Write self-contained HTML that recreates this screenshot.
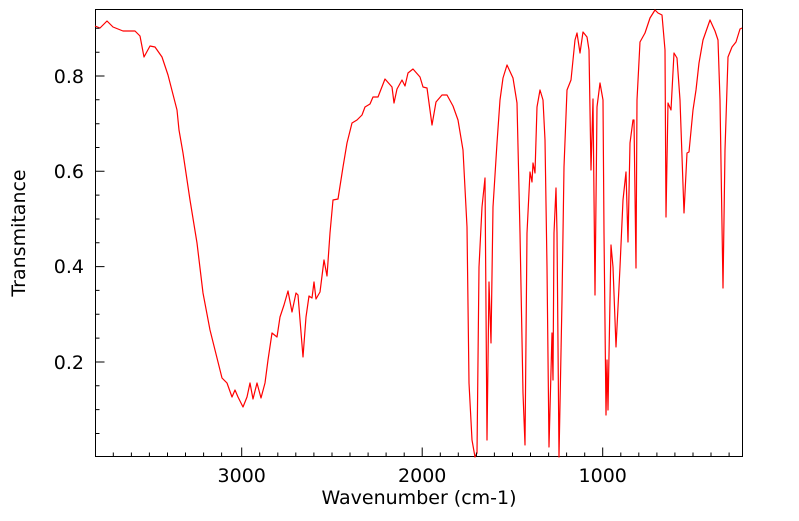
<!DOCTYPE html>
<html><head><meta charset="utf-8"><style>
html,body{margin:0;padding:0;background:#fff;}
svg text{font-family:"DejaVu Sans","Liberation Sans",sans-serif;font-size:19px;fill:#000;}
</style></head><body>
<svg width="799" height="516" viewBox="0 0 799 516" xmlns="http://www.w3.org/2000/svg">
<rect x="95.5" y="9.5" width="647" height="447" fill="none" stroke="#000" stroke-width="1"/>
<g stroke="#000" stroke-width="1">
<path d="M241.7 456.5v-9M422.2 456.5v-9M602.7 456.5v-9"/>
<path d="M95.5 76h9M95.5 171.3h9M95.5 266.6h9M95.5 362h9"/>
</g>
<text x="241.7" y="482" text-anchor="middle">3000</text>
<text x="422.2" y="482" text-anchor="middle">2000</text>
<text x="602.7" y="482" text-anchor="middle">1000</text>
<text x="84" y="83" text-anchor="end">0.8</text>
<text x="84" y="178" text-anchor="end">0.6</text>
<text x="84" y="273" text-anchor="end">0.4</text>
<text x="84" y="369" text-anchor="end">0.2</text>
<text x="419" y="504" text-anchor="middle">Wavenumber (cm-1)</text>
<text transform="translate(25,233) rotate(-90)" text-anchor="middle">Transmitance</text>
<polyline fill="none" stroke="#ff0000" stroke-width="1.2" stroke-linejoin="round" points="95,26 100,28 107,21 113,27 123,31 135,31 140,36 144,57 150,46 155,47 162,57 168,75 177,110 179,130 183,153 190,200 197,243 203,293 210,330 222,378 227,383 232,397 235,390 238,397 243,407 247,397 250,383 253,399 257,383 261,398 265,383 268,360 272,333 277,337 280,317 284,305 288,291 292,312 296,293 298,295 303,357 306,317 309,296 312,298 314,282 316,299 320,292 324,260 327,276 330,233 333,200 338,199 343,167 347,143 352,123 357,120 362,115 365,107 370,104 373,97 378,97 385,79 392,87 394,103 397,89 402,80 405,86 408,73 413,69 420,77 423,87 427,88 432,125 436,102 442,95 447,95 453,106 458,120 463,150 467,227 469,383 472,440 475,457 477,453 479,267 482,207 485,178 487,440 489,282 491,343 493,207 497,143 500,100 503,78 507,65 513,78 517,103 520,233 523,393 525,445 527,233 530,172 532,182 533,163 535,173 537,107 540,90 543,100 545,140 547,267 549,447 552,333 553,380 554,233 556,188 557,233 559,457 562,300 564,167 567,90 571,80 575,40 577,33 580,53 583,32 587,37 589,50 591,170 593,99 595,295 597,107 600,83 603,100 604,233 606,415 607,360 608,410 611,245 613,267 616,347 620,267 623,200 626,172 628,242 630,143 633,120 634,120 636,268 637,100 640,42 645,33 650,18 655,10 658,13 662,15 665,50 666,217 668,103 671,110 674,53 677,58 680,100 684,213 687,153 689,152 693,110 696,90 699,63 703,40 710,20 715,31 718,40 720,100 723,288 725,150 728,57 732,47 736,42 740,29 742,28"/>
<path stroke="#000" stroke-width="1" fill="none" d="
M113.3 456.5v-4M131.4 456.5v-4M149.4 456.5v-4M167.5 456.5v-4M185.5 456.5v-4M203.6 456.5v-4M221.6 456.5v-4
M259.7 456.5v-4M277.8 456.5v-4M295.8 456.5v-4M313.9 456.5v-4M332 456.5v-4M350 456.5v-4M368.1 456.5v-4M386.1 456.5v-4M404.2 456.5v-4
M440.3 456.5v-4M458.3 456.5v-4M476.4 456.5v-4M494.4 456.5v-4M512.5 456.5v-4M530.5 456.5v-4M548.6 456.5v-4M566.6 456.5v-4M584.7 456.5v-4
M620.8 456.5v-4M638.8 456.5v-4M656.9 456.5v-4M674.9 456.5v-4M693 456.5v-4M711 456.5v-4M729.1 456.5v-4
M95.5 28.3h4M95.5 52.2h4M95.5 99.8h4M95.5 123.7h4M95.5 147.5h4M95.5 195.1h4M95.5 219h4M95.5 242.8h4M95.5 290.4h4M95.5 314.3h4M95.5 338.1h4M95.5 385.8h4M95.5 409.6h4M95.5 433.5h4"/>
</svg>
</body></html>
